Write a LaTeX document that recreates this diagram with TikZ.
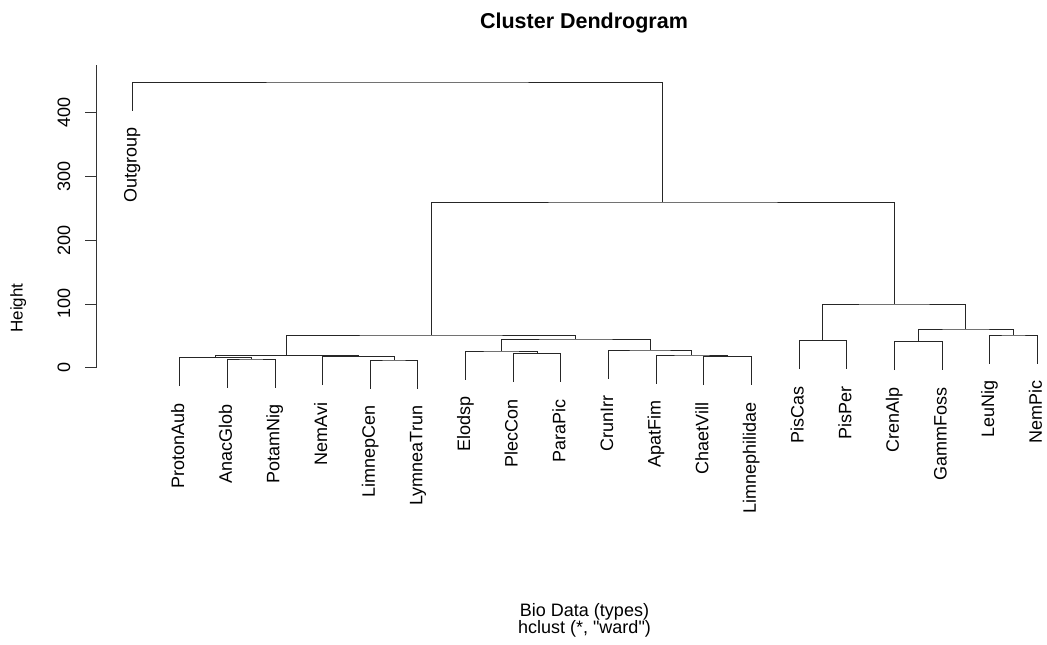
\documentclass[tikz,border=0pt]{standalone}
\usepackage{fontspec}
\setmainfont{Liberation Sans}[Ligatures=TeXOff]

\begin{document}
\begin{tikzpicture}[x=1pt,y=1pt,yscale=-1,xscale=1]
\tikzset{
  branch/.style={draw=black!85, line width=0.9pt},
  axisline/.style={draw=black!80, line width=0.9pt},
  leaflab/.style={rotate=90, anchor=base east, inner sep=0pt, font=\fontsize{18}{20}\selectfont},
  ticklab/.style={rotate=90, anchor=base, inner sep=0pt, font=\fontsize{18}{20}\selectfont},
  plainlab/.style={anchor=base, inner sep=0pt, font=\fontsize{18}{20}\selectfont}
}
\useasboundingbox (0,0) rectangle (1047,645);

%Axis: Height
\coordinate (axtop) at (96.7,65);
\coordinate (ax0) at (96.7,367.7);
\draw [axisline] (axtop) -- (ax0);
\draw [axisline] (96.7,367.7) -- (85,367.7);
\draw [axisline] (96.7,303.95) -- (85,303.95);
\draw [axisline] (96.7,240.2) -- (85,240.2);
\draw [axisline] (96.7,176.45) -- (85,176.45);
\draw [axisline] (96.7,112.7) -- (85,112.7);
% Text Node
\node [ticklab] (t0) at (70,367.7) {0};
\node [ticklab] (t100) at (70,303.95) {100};
\node [ticklab] (t200) at (70,240.2) {200};
\node [ticklab] (t300) at (70,176.45) {300};
\node [ticklab] (t400) at (70,112.7) {400};
\node [ticklab, font=\fontsize{17}{19}\selectfont] (ylab) at (22.5,308) {Height};

%Leaves (lower ends)
\coordinate (Outgroup) at (132,110.5);
\coordinate (ProtonAub) at (179.65,386.2);
\coordinate (AnacGlob) at (227.3,387.5);
\coordinate (PotamNig) at (274.95,387.5);
\coordinate (NemAvi) at (322.6,385.2);
\coordinate (LimnepCen) at (370.25,388.5);
\coordinate (LymneaTrun) at (417.9,388.5);
\coordinate (Elodsp) at (465.55,379.5);
\coordinate (PlecCon) at (513.2,382.2);
\coordinate (ParaPic) at (560.85,382.2);
\coordinate (CrunIrr) at (608.5,378.5);
\coordinate (ApatFim) at (656.15,383.5);
\coordinate (ChaetVill) at (703.8,385.2);
\coordinate (Limnephilidae) at (751.45,385.2);
\coordinate (PisCas) at (799.1,369.2);
\coordinate (PisPer) at (846.75,369.2);
\coordinate (CrenAlp) at (894.4,370.2);
\coordinate (GammFoss) at (942.05,370.2);
\coordinate (LeuNig) at (989.7,363.5);
\coordinate (NemPic) at (1037.35,363.5);

%Merges
\coordinate (m1) at (251.1,359);
\coordinate (m2) at (215.4,357.7);
\coordinate (m3) at (394.1,360);
\coordinate (m4) at (358.35,356.7);
\coordinate (m5) at (286.9,355.7);
\coordinate (m6) at (537,353.7);
\coordinate (m7) at (501.3,351);
\coordinate (m8) at (727.6,356.7);
\coordinate (m9) at (691.9,355);
\coordinate (m10) at (650.2,350);
\coordinate (m11) at (575.75,339);
\coordinate (m12) at (431.3,335);
\coordinate (m13) at (822.9,340.7);
\coordinate (m14) at (918.2,341.7);
\coordinate (m15) at (1013.5,335);
\coordinate (m16) at (965.9,329);
\coordinate (m17) at (894.4,304);
\coordinate (m18) at (662.85,202);
\coordinate (m19) at (397.4,82);

%Branches
\draw [branch] (AnacGlob) |- (m1) -| (PotamNig);
\draw [branch] (ProtonAub) |- (m2) -| (m1);
\draw [branch] (LimnepCen) |- (m3) -| (LymneaTrun);
\draw [branch] (NemAvi) |- (m4) -| (m3);
\draw [branch] (m2) |- (m5) -| (m4);
\draw [branch] (PlecCon) |- (m6) -| (ParaPic);
\draw [branch] (Elodsp) |- (m7) -| (m6);
\draw [branch] (ChaetVill) |- (m8) -| (Limnephilidae);
\draw [branch] (ApatFim) |- (m9) -| (m8);
\draw [branch] (CrunIrr) |- (m10) -| (m9);
\draw [branch] (m7) |- (m11) -| (m10);
\draw [branch] (m5) |- (m12) -| (m11);
\draw [branch] (PisCas) |- (m13) -| (PisPer);
\draw [branch] (CrenAlp) |- (m14) -| (GammFoss);
\draw [branch] (LeuNig) |- (m15) -| (NemPic);
\draw [branch] (m14) |- (m16) -| (m15);
\draw [branch] (m13) |- (m17) -| (m16);
\draw [branch] (m12) |- (m18) -| (m17);
\draw [branch] (Outgroup) |- (m19) -| (m18);

% Text Node
\node [leaflab] (lOutgroup) at ([shift={(4.5,17)}]Outgroup) {Outgroup};
\node [leaflab] (lProtonAub) at ([shift={(4.5,17)}]ProtonAub) {ProtonAub};
\node [leaflab] (lAnacGlob) at ([shift={(4.5,17)}]AnacGlob) {AnacGlob};
\node [leaflab] (lPotamNig) at ([shift={(4.5,17)}]PotamNig) {PotamNig};
\node [leaflab] (lNemAvi) at ([shift={(4.5,17)}]NemAvi) {NemAvi};
\node [leaflab] (lLimnepCen) at ([shift={(4.5,17)}]LimnepCen) {LimnepCen};
\node [leaflab] (lLymneaTrun) at ([shift={(4.5,17)}]LymneaTrun) {LymneaTrun};
\node [leaflab] (lElodsp) at ([shift={(4.5,17)}]Elodsp) {Elodsp};
\node [leaflab] (lPlecCon) at ([shift={(4.5,17)}]PlecCon) {PlecCon};
\node [leaflab] (lParaPic) at ([shift={(4.5,17)}]ParaPic) {ParaPic};
\node [leaflab] (lCrunIrr) at ([shift={(4.5,17)}]CrunIrr) {CrunIrr};
\node [leaflab] (lApatFim) at ([shift={(4.5,17)}]ApatFim) {ApatFim};
\node [leaflab] (lChaetVill) at ([shift={(4.5,17)}]ChaetVill) {ChaetVill};
\node [leaflab] (lLimnephilidae) at ([shift={(4.5,17)}]Limnephilidae) {Limnephilidae};
\node [leaflab] (lPisCas) at ([shift={(4.5,17)}]PisCas) {PisCas};
\node [leaflab] (lPisPer) at ([shift={(4.5,17)}]PisPer) {PisPer};
\node [leaflab] (lCrenAlp) at ([shift={(4.5,17)}]CrenAlp) {CrenAlp};
\node [leaflab] (lGammFoss) at ([shift={(4.5,17)}]GammFoss) {GammFoss};
\node [leaflab] (lLeuNig) at ([shift={(4.5,17)}]LeuNig) {LeuNig};
\node [leaflab] (lNemPic) at ([shift={(4.5,17)}]NemPic) {NemPic};

% Text Node
\node [plainlab, font=\bfseries\fontsize{21.5}{24}\selectfont] (title) at (584,28) {Cluster Dendrogram};
\node [plainlab] (xlab) at (584.5,616.5) {Bio Data (types)};
\node [plainlab] (sub) at (584.5,633.5) {hclust (*, "ward")};

\end{tikzpicture}
\end{document}
